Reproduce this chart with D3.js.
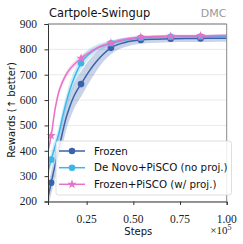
<!DOCTYPE html>
<html><head><meta charset="utf-8">
<script src="https://cdn.jsdelivr.net/npm/d3@7"></script>
<style>body{margin:0;background:#fff}svg{display:block}</style>
</head><body>
<svg id="c" width="243" height="244"></svg>
<script>
const steps = [0.043,0.06,0.08,0.10,0.12,0.14,0.16,0.18,0.20,0.22,0.26,0.30,0.34,0.38,0.46,0.54,0.62,0.70,0.78,0.86,0.94,1.00];
const markerIdx = [1,9,13,15,17,19];
const frozen      = [215,274,340,405,470,530,575,612,640,663,710,750,782,806,828,837,840,842,843,843,844,844];
const frozenStd   = [40,45,50,50,50,50,50,50,50,50,45,38,30,25,18,15,14,14,14,14,14,14];
const deNovo      = [320,365,415,465,530,590,640,682,717,745,780,802,815,824,838,846,849,850,851,851,852,852];
const deNovoStd   = [28,30,30,30,30,30,30,28,27,25,20,15,12,10,8,7,6,6,6,6,6,6];
const pisco       = [400,460,560,630,670,700,722,738,752,765,785,803,816,825,840,848,851,852,853,853,854,855];
const piscoStd    = [14,15,15,15,14,13,12,12,12,11,10,9,8,8,7,6,6,6,6,6,6,6];
const yTicks = [200,300,400,500,600,700,800,900];
const xTicks = [0.25,0.50,0.75,1.00];
const seriesNames = ["Frozen","De Novo+PiSCO (no proj.)","Frozen+PiSCO (w/ proj.)"];

const series = [
  {name:seriesNames[0], v:frozen, s:frozenStd, color:"#3b62ad", band:"#3b62ad", bandOp:0.28, marker:"circle"},
  {name:seriesNames[1], v:deNovo, s:deNovoStd, color:"#3ab7e8", band:"#3ab7e8", bandOp:0.25, marker:"circle"},
  {name:seriesNames[2], v:pisco,  s:piscoStd,  color:"#e872c8", band:"#e872c8", bandOp:0.25, marker:"star"}
];

const L=48, R=226.7, T=24, B=201.5;
const svg = d3.select("#c");
const x = d3.scaleLinear().domain([0.043,1.0]).range([L,R]);
const y = d3.scaleLinear().domain([200,900]).range([B,T]);

svg.append("defs").append("clipPath").attr("id","clip")
  .append("rect").attr("x",L).attr("y",T).attr("width",R-L).attr("height",B-T);

// grid
svg.append("g").selectAll("line").data(yTicks).join("line")
  .attr("x1",L).attr("x2",R).attr("y1",d=>y(d)).attr("y2",d=>y(d))
  .attr("stroke","#e3e3e3").attr("stroke-width",0.8);

const plot = svg.append("g").attr("clip-path","url(#clip)");
const area = (sr)=>d3.area().curve(d3.curveMonotoneX)
  .x((d,i)=>x(steps[i])).y0((d,i)=>y(sr.v[i]-sr.s[i])).y1((d,i)=>y(sr.v[i]+sr.s[i]));
const line = (sr)=>d3.line().curve(d3.curveMonotoneX)
  .x((d,i)=>x(steps[i])).y((d,i)=>y(sr.v[i]));

series.forEach(sr=>{
  plot.append("path").datum(sr.v).attr("d",area(sr)).attr("fill",sr.band).attr("fill-opacity",sr.bandOp);
});
const star = d3.symbol().type(d3.symbolStar).size(28);
const circ = d3.symbol().type(d3.symbolCircle).size(34);
series.forEach(sr=>{
  plot.append("path").datum(sr.v).attr("d",line(sr)).attr("fill","none")
    .attr("stroke",sr.color).attr("stroke-width",1.5);
  svg.append("g").selectAll("path").data(markerIdx).join("path")
    .attr("transform",i=>`translate(${x(steps[i])},${y(sr.v[i])})`)
    .attr("d",sr.marker==="star"?star():circ())
    .attr("fill",sr.color);
});

// spines
svg.append("line").attr("x1",L).attr("x2",R).attr("y1",T).attr("y2",T).attr("stroke","#777").attr("stroke-width",1);
svg.append("line").attr("x1",R).attr("x2",R).attr("y1",T).attr("y2",B).attr("stroke","#888").attr("stroke-width",1);

const yAxis = svg.append("g").attr("transform",`translate(${L},0)`)
  .call(d3.axisLeft(y).tickValues(yTicks).tickSize(3.5).tickFormat(()=>"") );
const xAxis = svg.append("g").attr("transform",`translate(0,${B})`)
  .call(d3.axisBottom(x).tickValues(xTicks).tickSize(3.5).tickFormat(()=>""));
[yAxis,xAxis].forEach(a=>{
  a.select(".domain").attr("stroke","#333");
  a.selectAll(".tick line").attr("stroke","#333");
});
const fmtY = d3.format("d"), fmtX = d3.format(".2f");
svg.append("g").selectAll("text").data(yTicks).join("text")
  .attr("x",37).attr("y",d=>y(d)+3.8).attr("text-anchor","end")
  .attr("font-family","'Liberation Serif', serif").attr("font-size","11.5px").attr("fill","#222")
  .text(d=>fmtY(d));
svg.append("g").selectAll("text").data(xTicks).join("text")
  .attr("x",d=>x(d)).attr("y",222.5).attr("text-anchor","middle")
  .attr("font-family","'Liberation Serif', serif").attr("font-size","11.5px").attr("fill","#222")
  .text(d=>fmtX(d));

// titles
svg.append("text").attr("x",49).attr("y",16.5).attr("font-family","'DejaVu Sans'").attr("font-size","11.4px").attr("fill","#111").text("Cartpole-Swingup");
svg.append("text").attr("x",226.5).attr("y",16.5).attr("text-anchor","end").attr("font-family","'DejaVu Sans'").attr("font-size","11px").attr("fill","#999").text("DMC");
svg.append("text").attr("x",138.3).attr("y",234.5).attr("text-anchor","middle").attr("font-family","'DejaVu Sans'").attr("font-size","10px").attr("fill","#111").text("Steps");
svg.append("text").attr("transform","translate(14.5,110) rotate(-90)").attr("text-anchor","middle").attr("font-family","'DejaVu Sans'").attr("font-size","10px").attr("fill","#111").text("Rewards (↑ better)");
const off = svg.append("text").attr("x",231.5).attr("y",234).attr("text-anchor","end").attr("font-family","'Liberation Serif', serif").attr("font-size","11px").attr("fill","#222");
off.append("tspan").text("×10");
off.append("tspan").attr("dy",-4).attr("font-size","8px").text("5");

// legend
const lg = svg.append("g");
lg.append("rect").attr("x",56).attr("y",141).attr("width",175.5).attr("height",54).attr("rx",2.5)
  .attr("fill","#fff").attr("fill-opacity",0.85).attr("stroke","#d6d6d6").attr("stroke-width",0.8);
const rowsY = [151,167.7,184.3];
series.forEach((sr,k)=>{
  const yy = rowsY[k];
  lg.append("line").attr("x1",59).attr("x2",85).attr("y1",yy).attr("y2",yy).attr("stroke",sr.color).attr("stroke-width",1.5);
  lg.append("path").attr("transform",`translate(72,${yy})`).attr("d",sr.marker==="star"?star():circ()).attr("fill",sr.color);
  lg.append("text").attr("x",94).attr("y",yy+3.6).attr("font-family","'DejaVu Sans'").attr("font-size","10.3px").attr("fill","#111").text(sr.name);
});
</script>
</body></html>
